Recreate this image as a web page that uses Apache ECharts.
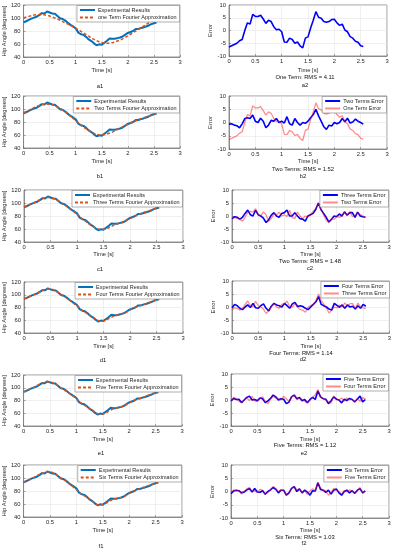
<!DOCTYPE html>
<html><head><meta charset="utf-8">
<script src="https://cdn.jsdelivr.net/npm/echarts@6/dist/echarts.min.js"></script>
<style>html,body{margin:0;padding:0;background:#fff}#c{width:394px;height:550px}</style>
</head><body><div id="c"></div>
<script>
// ---------- data ----------
const timeFine = [0,0.05,0.1,0.15,0.2,0.25,0.3,0.35,0.4,0.45,0.5,0.55,0.6,0.65,0.7,0.75,0.8,0.85,0.9,0.95,1,1.05,1.1,1.15,1.2,1.25,1.3,1.35,1.4,1.45,1.5,1.55,1.6,1.65,1.7,1.75,1.8,1.85,1.9,1.95,2,2.05,2.1,2.15,2.2,2.25,2.3,2.35,2.4,2.45,2.5,2.55];
const timeCoarse = [0,0.1,0.2,0.3,0.4,0.5,0.6,0.7,0.8,0.9,1,1.1,1.2,1.3,1.4,1.5,1.6,1.7,1.8,1.9,2,2.1,2.2,2.3,2.4,2.5,2.55];
const xTicks = [0,0.5,1,1.5,2,2.5,3];
const angleTicks = [40,60,80,100,120];
const errorTicks = [-10,-5,0,5,10];

const experimental = [93.5,95,97,99,100.5,102,104.5,107.5,107,110,108.5,107,106.5,103,99.5,98.5,96,92.5,89.5,87,84,77.5,75,74,71,67,64.5,61,58,59.5,59,62,65,68.5,68,68,69,70,71.5,74.5,77,78.5,80,83,83,84.5,85.5,87,88.5,90.5,92,93];
const approx1 = [100,101.5,102.5,103.5,104.5,105,105.3,105.3,105,104,103,101.5,100,98.5,96.5,94.5,92.5,90.5,88.5,86.5,84,82,79.5,77,74.5,72,69,67,65,63.5,62.5,61.7,61.3,61.3,62,63,64.5,66,68,70,72.5,75,77.5,80,82.5,85,87.5,90,92.5,95,98,99.5];
const approx2 = [94,98,102,105.5,107.5,107.5,105,101,95.5,89,82,75,69.5,64.5,61,60,61.5,64.5,68.5,72.5,76.5,80,83.5,86.5,89,92,93.5];
const approx3 = [94,97.5,101,105,108,108.5,105.5,100.5,95,89,82.5,75.5,69.5,64,60,59.5,62,66,69,72,76,80,83.5,86.5,89,92,93];
const approx4 = [93.5,97,100.5,105,108.5,109,106,100.5,95,89,82.5,75.5,70,64.5,59.5,59,62.5,66.5,69,71.5,76,80.5,83.5,86,89,92,93];
const approx5 = [93.5,97,100.5,105.5,108.5,109,106,100,95,89.5,82.5,75,70,64.5,59.5,59,62.5,67,69,71.5,76,80.5,83,86,89.5,92,93];
const approx6 = [93.5,97,101,105.5,108.5,109.5,106,100,95.5,89,82,75,70.5,64.5,59,59,63,67.5,69,71.5,76.5,80.5,83,86.5,89.5,92,93];

const error1 = [-6.5,-6,-5.5,-5,-4,-3.5,0,3,2.5,6.3,5.5,5.5,6,4.5,2.8,4,3.5,1.5,0.3,0.5,-0.5,-4.5,-4.6,-3,-3.5,-5,-4.5,-6,-6.8,-3,-2.5,1,4,7.4,5.2,4.8,3.5,3.2,3.5,4.3,4.4,3,2,2.5,0.2,-0.5,-2.4,-3,-4.2,-4.6,-6,-6.3];
const error2 = [-0.7,-0.5,-1,-1.2,-2,-0.5,1.5,1.8,1.5,2.8,0.5,0,1.6,0.5,-2,-1,0.8,0.5,1.5,0,0.5,-0.2,2.2,-0.5,-1,1.5,0,-1,0,-0.3,0.5,1.8,3,5,2.5,0.5,-1.6,-2.6,-1,-1.3,0,-0.5,0,1.5,0.3,1.6,-0.2,0.2,1.3,0.5,0,-0.6];
const error3 = [-1,-0.3,-0.5,-1.2,-0.5,1,2.3,0.5,0,2.2,0.5,0,-0.8,-2.5,-1.5,0.3,1.3,0,-0.5,1,1.3,2.3,0,0,1.3,0,-1,-1.2,-2,0,0.5,1,2.5,5,2.5,1,-0.5,-2.3,-1.3,0,-0.3,0.8,0,1.6,0.3,1.3,1.3,-0.5,1.5,0,-0.3,-0.5];
const error4 = [-0.3,1,0.5,-0.5,-1,0,0.8,-0.2,1.4,-0.3,-0.5,0.5,1.2,-0.5,-1.5,0.3,1.4,0.8,0.5,0,1.4,0.5,-0.5,1.2,1.8,0.2,0.5,0.2,-0.5,-1,0,1,2,4,1,0.5,0,-0.8,-1.2,1.4,0.6,-0.1,0.8,-0.5,0.8,0,0.3,-0.8,0.5,-0.5,1,0.3];
const error5 = [-0.3,0.6,0.2,0.3,-1,0,1,1.5,0,0.2,-0.3,0.8,0.5,-1,-0.4,0.6,1.9,1.2,0,0.5,0.3,-1.4,-0.8,1.2,1.9,0.5,1,-0.3,0.2,-1.1,0.2,1,0.2,3.5,1.2,0.5,0.3,-1.4,-0.3,1.2,0.3,0,-1.1,0.3,-0.2,0.6,0.2,-0.7,0.4,1.5,-0.7,0.2];
const error6 = [-0.8,0.2,0.5,0.3,-0.5,-0.2,0.6,1.1,-0.2,1.1,-0.2,-0.3,0.3,-1,0,0.6,1.5,0.8,-0.5,0.5,0.5,-1.4,-0.5,1.2,1.8,0,1,-0.5,0.5,-0.2,-1.4,0.3,0.2,3.3,0.8,0.5,-0.3,0.5,-1,0.5,1,-0.5,-1.4,0,0.5,-0.5,0.3,-0.7,0.5,1.1,-0.5,0.2];

const approxNames = ['one Term Fourier Approximation','Two Terms Fourier Approximation','Three Terms Fourier Approximation','Four Terms Fourier Approximation','Five Terms Fourier Approximation','Six Terms Fourier Approximation'];
const errorNames = ['One Term Error','Two Terms Error','Three Terms Error','Four Terms Error','Five Terms Error','Six Terms Error'];
const rmsCaptions = ['One Term: RMS = 4.11','Two Terms: RMS = 1.52','Two Terms: RMS = 1.48','Four Terms: RMS = 1.14','Five Terms: RMS = 1.12','Six Terms: RMS = 1.03'];
const leftLabels = ['a1','b1','c1','d1','e1','f1'];
const rightLabels = ['a2','b2','c2','d2','e2','f2'];

// ---------- layout ----------
const FONT = '"Liberation Sans", Arial, sans-serif';
const TXT = '#262626';
const leftBoxes = [[21,5,159,52],[21,96,159,52],[24,190,159,52],[24,282,159,51],[23,375,159,51],[23,465,159,52]];
const rightBoxes = [[229,5,158,51],[229,96,158,53],[232,190,157,52],[232,281,158,52],[231,374,158,52],[231,465,158,53]];
const leftTimeY = [70,161,253,346,439,530];
const rightTimeY = [70,161,253,346,439,530];
const leftCapPos = [[100,86],[100,176],[100,269],[103,360],[101,453],[101,546]];
const rightCapPos = [[305,77],[303,169],[310,261],[301,353],[305,445],[305,537]];
const rightLabPos = [[305,85],[303,176],[310,268],[303,359],[304,453],[304,543]];

const approxList = [approx1,approx2,approx3,approx4,approx5,approx6];
const errorList = [error1,error2,error3,error4,error5,error6];

function pairs(t, v){ return v.map((y,i)=>[t[i], y]); }

const grids=[], xAxes=[], yAxes=[], series=[], legends=[], graphics=[];

function addPanel(box, timeY, yMin, yMax, yInt, yName, yGap){
  const idx = grids.length;
  grids.push({left:box[0], top:box[1], width:box[2], height:box[3], show:true, borderColor:'#6a6a6a', borderWidth:0.7, backgroundColor:'#fff'});
  const gap = timeY - (box[1]+box[3]) - 3;
  xAxes.push({gridIndex:idx, type:'value', min:xTicks[0], max:xTicks[xTicks.length-1], interval:xTicks[1]-xTicks[0],
    name:'Time [s]', nameLocation:'middle', nameGap:gap,
    nameTextStyle:{fontSize:5.8, color:TXT, fontFamily:FONT},
    axisLine:{show:true, onZero:false, lineStyle:{color:'#6a6a6a', width:0.7}},
    axisTick:{show:true, inside:true, length:2, lineStyle:{color:'#6a6a6a', width:0.6}},
    axisLabel:{fontSize:5.8, color:TXT, margin:2.5, fontFamily:FONT, showMinLabel:true, showMaxLabel:true},
    splitLine:{show:true, lineStyle:{color:'#e4e4e4', width:0.6}}});
  yAxes.push({gridIndex:idx, type:'value', min:yMin, max:yMax, interval:yInt,
    name:yName, nameLocation:'middle', nameGap:yGap,
    nameTextStyle:{fontSize:5.8, color:TXT, fontFamily:FONT},
    axisLine:{show:true, onZero:false, lineStyle:{color:'#6a6a6a', width:0.7}},
    axisTick:{show:true, inside:true, length:2, lineStyle:{color:'#6a6a6a', width:0.6}},
    axisLabel:{fontSize:5.8, color:TXT, margin:3, fontFamily:FONT, showMinLabel:true, showMaxLabel:true},
    splitLine:{show:true, lineStyle:{color:'#e4e4e4', width:0.6}}});
  return idx;
}

function addLegend(box, names){
  legends.push({show:true, orient:'vertical', right: 394-(box[0]+box[2])+0.5, top: box[1]+0.5,
    data:names, backgroundColor:'#fff', borderColor:'#7a7a7a', borderWidth:0.6,
    padding:[1.5,3,1.5,2], itemGap:1.5, itemWidth:15, itemHeight:4, selectedMode:false,
    itemStyle:{color:'rgba(0,0,0,0)', borderColor:'rgba(0,0,0,0)', borderWidth:0, opacity:0},
    textStyle:{fontSize:5.5, color:TXT, fontFamily:FONT, padding:[0,0,0,-2]},
    formatter:function(n){return n.split('#')[0];}});
}

for(let k=0;k<6;k++){
  // left: hip angle panel
  const lb = leftBoxes[k];
  const li = addPanel(lb, leftTimeY[k], angleTicks[0], angleTicks[angleTicks.length-1], angleTicks[1]-angleTicks[0], 'Hip Angle [degrees]', 12.5);
  const expName = 'Experimental Results#L'+k;
  const apName = approxNames[k]+'#L'+k;
  series.push({type:'line', name:expName, xAxisIndex:li, yAxisIndex:li, data:pairs(timeFine, experimental),
    symbol:'none', showSymbol:false, lineStyle:{color:'#0072BD', width:2}, itemStyle:{color:'#0072BD'}, z:2});
  series.push({type:'line', name:apName, xAxisIndex:li, yAxisIndex:li, data: k===0 ? pairs(timeFine, approx1) : pairs(timeCoarse, approxList[k]),
    symbol:'none', showSymbol:false, smooth: k===0 ? false : 0.3, lineStyle:{color:'#D95319', width:1.5, type:[3,2]}, itemStyle:{color:'#D95319'}, z:3});
  addLegend(lb, [expName, apName]);
  graphics.push({type:'text', x:leftCapPos[k][0], y:leftCapPos[k][1], style:{text:leftLabels[k], fontSize:5.8, fontFamily:FONT, fill:'#111', align:'center', verticalAlign:'middle'}});

  // right: error panel
  const rb = rightBoxes[k];
  const ri = addPanel(rb, rightTimeY[k], errorTicks[0], errorTicks[errorTicks.length-1], errorTicks[1]-errorTicks[0], 'Error', 12);
  const blueName = errorNames[k]+'#R'+k;
  series.push({type:'line', name:blueName, xAxisIndex:ri, yAxisIndex:ri, data:pairs(timeFine, errorList[k]),
    symbol:'none', showSymbol:false, lineStyle:{color:'#0000FF', width:1.6}, itemStyle:{color:'#0000FF'}, z:2});
  if(k>0){
    const redName = errorNames[k-1]+'#R'+k;
    series.push({type:'line', name:redName, xAxisIndex:ri, yAxisIndex:ri, data:pairs(timeFine, errorList[k-1]),
      symbol:'none', showSymbol:false, lineStyle:{color:'rgba(255,0,0,0.45)', width:1.3}, itemStyle:{color:'rgba(255,0,0,0.45)'}, z:3});
    addLegend(rb, [blueName, redName]);
  }
  graphics.push({type:'text', x:rightCapPos[k][0], y:rightCapPos[k][1], style:{text:rmsCaptions[k], fontSize:5.8, fontFamily:FONT, fill:'#111', align:'center', verticalAlign:'middle'}});
  graphics.push({type:'text', x:rightLabPos[k][0], y:rightLabPos[k][1], style:{text:rightLabels[k], fontSize:5.8, fontFamily:FONT, fill:'#111', align:'center', verticalAlign:'middle'}});
}

const chart = echarts.init(document.getElementById('c'), null, {renderer:'canvas', width:394, height:550});
chart.setOption({
  animation:false,
  backgroundColor:'#fff',
  grid:grids, xAxis:xAxes, yAxis:yAxes, series:series, legend:legends,
  graphic:{elements:graphics}
});
</script>
</body></html>
